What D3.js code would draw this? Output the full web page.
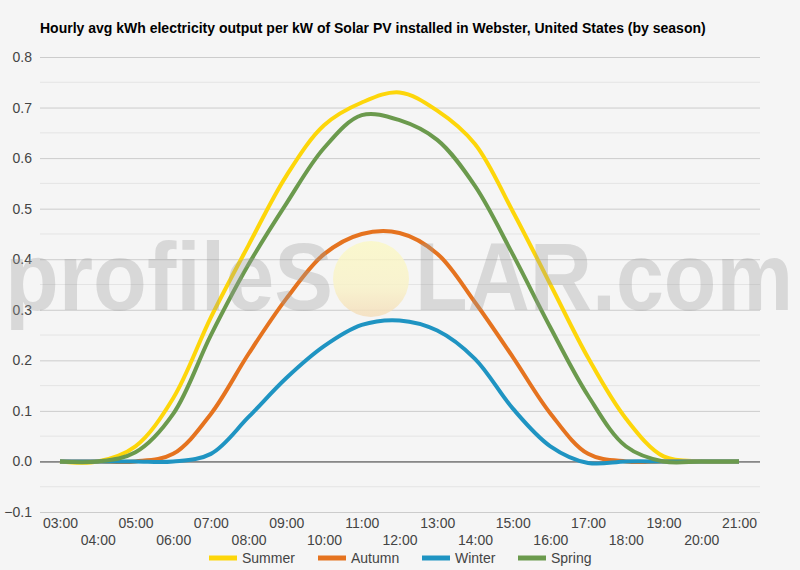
<!DOCTYPE html>
<html>
<head>
<meta charset="utf-8">
<script src="https://cdn.jsdelivr.net/npm/d3@7"></script>
<style>
  html, body { margin: 0; padding: 0; background: #f5f5f5; }
  svg { display: block; font-family: Arial, "Liberation Sans", sans-serif; }
</style>
</head>
<body>
<svg id="chart" width="800" height="570"></svg>
<script>
// data
let hours = [3, 4, 5, 6, 7, 8, 9, 10, 11, 12, 13, 14, 15, 16, 17, 18, 19, 20, 21];
let hourLabels = ["03:00","04:00","05:00","06:00","07:00","08:00","09:00","10:00","11:00","12:00",
                  "13:00","14:00","15:00","16:00","17:00","18:00","19:00","20:00","21:00"];
let summer = [0, 0, 0.03, 0.125, 0.285, 0.428, 0.565, 0.665, 0.71, 0.73, 0.694, 0.628, 0.495, 0.35, 0.205, 0.085, 0.01, 0, 0];
let autumn = [0, 0, 0, 0.015, 0.094, 0.213, 0.322, 0.41, 0.45, 0.452, 0.411, 0.315, 0.207, 0.095, 0.015, 0, 0, 0, 0];
let winter = [0, 0, 0, 0, 0.015, 0.088, 0.165, 0.228, 0.27, 0.279, 0.259, 0.203, 0.105, 0.03, -0.003, 0, 0, 0, 0];
let spring = [0, 0, 0.018, 0.094, 0.25, 0.39, 0.51, 0.62, 0.685, 0.675, 0.636, 0.545, 0.41, 0.265, 0.13, 0.03, 0, 0, 0];
let seriesNames = ["Summer", "Autumn", "Winter", "Spring"];
let seriesColors = ["#fdd60a", "#e5731f", "#1f94c2", "#6b9a4d"];
let yTicks = [-0.1, 0, 0.1, 0.2, 0.3, 0.4, 0.5, 0.6, 0.7, 0.8];
let yMinor = [-0.05, 0.05, 0.15, 0.25, 0.35, 0.45, 0.55, 0.65, 0.75];

let svg = d3.select('#chart');
let x = d3.scaleLinear().domain([3, 21]).range([60, 739]);
let y = d3.scaleLinear().domain([-0.1, 0.8]).range([512, 57]);

// title
svg.append('text')
    .attr('x', 40).attr('y', 33)
    .attr('font-size', 14).attr('font-weight', 'bold').attr('fill', '#000')
    .text('Hourly avg kWh electricity output per kW of Solar PV installed in Webster, United States (by season)');

// gridlines
svg.append('g').selectAll('line').data(yMinor).join('line')
    .attr('x1', 40).attr('x2', 760)
    .attr('y1', d => y(d)).attr('y2', d => y(d))
    .attr('stroke', '#e4e4e4').attr('stroke-width', 1);

let yAxis = svg.append('g')
    .attr('transform', 'translate(40,0)')
    .call(d3.axisLeft(y).tickValues(yTicks).tickFormat(d3.format('.1f')).tickSize(-720).tickPadding(8));
yAxis.select('.domain').remove();
yAxis.selectAll('line')
    .attr('stroke', d => d === 0 ? '#333' : '#cccccc');
yAxis.selectAll('text')
    .attr('font-size', 14).attr('fill', '#444').attr('font-family', 'Arial, "Liberation Sans", sans-serif');

// x axis labels on two staggered rows
let xAxis = svg.append('g')
    .attr('transform', 'translate(0,512)')
    .call(d3.axisBottom(x).tickValues(hours).tickFormat((d, i) => hourLabels[i]).tickSize(0).tickPadding(0));
xAxis.select('.domain').remove();
xAxis.selectAll('text')
    .attr('font-size', 14).attr('fill', '#444').attr('font-family', 'Arial, "Liberation Sans", sans-serif')
    .attr('dy', null)
    .attr('y', (d, i) => i % 2 == 0 ? 15.5 : 33);

// lines
let line = d3.line()
    .x((d, i) => x(hours[i]))
    .y(d => y(d))
    .curve(d3.curveCatmullRom.alpha(0.5));

let allSeries = [summer, autumn, winter, spring];
svg.append('g').selectAll('path').data(allSeries).join('path')
    .attr('d', d => line(d))
    .attr('fill', 'none')
    .attr('stroke', (d, i) => seriesColors[i])
    .attr('stroke-width', 4)
    .attr('stroke-linejoin', 'round');

// watermark
let defs = svg.append('defs');
let grad = defs.append('linearGradient').attr('id', 'sun').attr('x1', 0).attr('y1', 0).attr('x2', 0).attr('y2', 1);
grad.append('stop').attr('offset', '0%').attr('stop-color', '#fbf8c4');
grad.append('stop').attr('offset', '60%').attr('stop-color', '#f9f2c6');
grad.append('stop').attr('offset', '100%').attr('stop-color', '#f4dcb8');
let wm = svg.append('g').attr('pointer-events', 'none');
wm.append('text')
    .attr('x', 5).attr('y', 310)
    .attr('font-size', 96).attr('font-weight', 'bold')
    .attr('textLength', 328).attr('lengthAdjust', 'spacingAndGlyphs')
    .attr('fill', '#9a9a9a').attr('fill-opacity', 0.32)
    .text('profileS');
wm.append('ellipse')
    .attr('cx', 371).attr('cy', 279).attr('rx', 38).attr('ry', 38)
    .attr('fill', 'url(#sun)').attr('opacity', 0.8);
wm.append('text')
    .attr('x', 415).attr('y', 310)
    .attr('font-size', 96).attr('font-weight', 'bold')
    .attr('textLength', 378).attr('lengthAdjust', 'spacingAndGlyphs')
    .attr('fill', '#9a9a9a').attr('fill-opacity', 0.32)
    .text('LAR.com');

// legend
let legendX = [209, 318, 422, 518];
let legend = svg.append('g').selectAll('g').data(seriesNames).join('g')
    .attr('transform', (d, i) => `translate(${legendX[i]},558)`);
legend.append('line')
    .attr('x1', 0).attr('x2', 28).attr('y1', 0).attr('y2', 0)
    .attr('stroke', (d, i) => seriesColors[i]).attr('stroke-width', 5);
legend.append('text')
    .attr('x', 33).attr('y', 5)
    .attr('font-size', 14).attr('fill', '#444')
    .text(d => d);
</script>
</body>
</html>
